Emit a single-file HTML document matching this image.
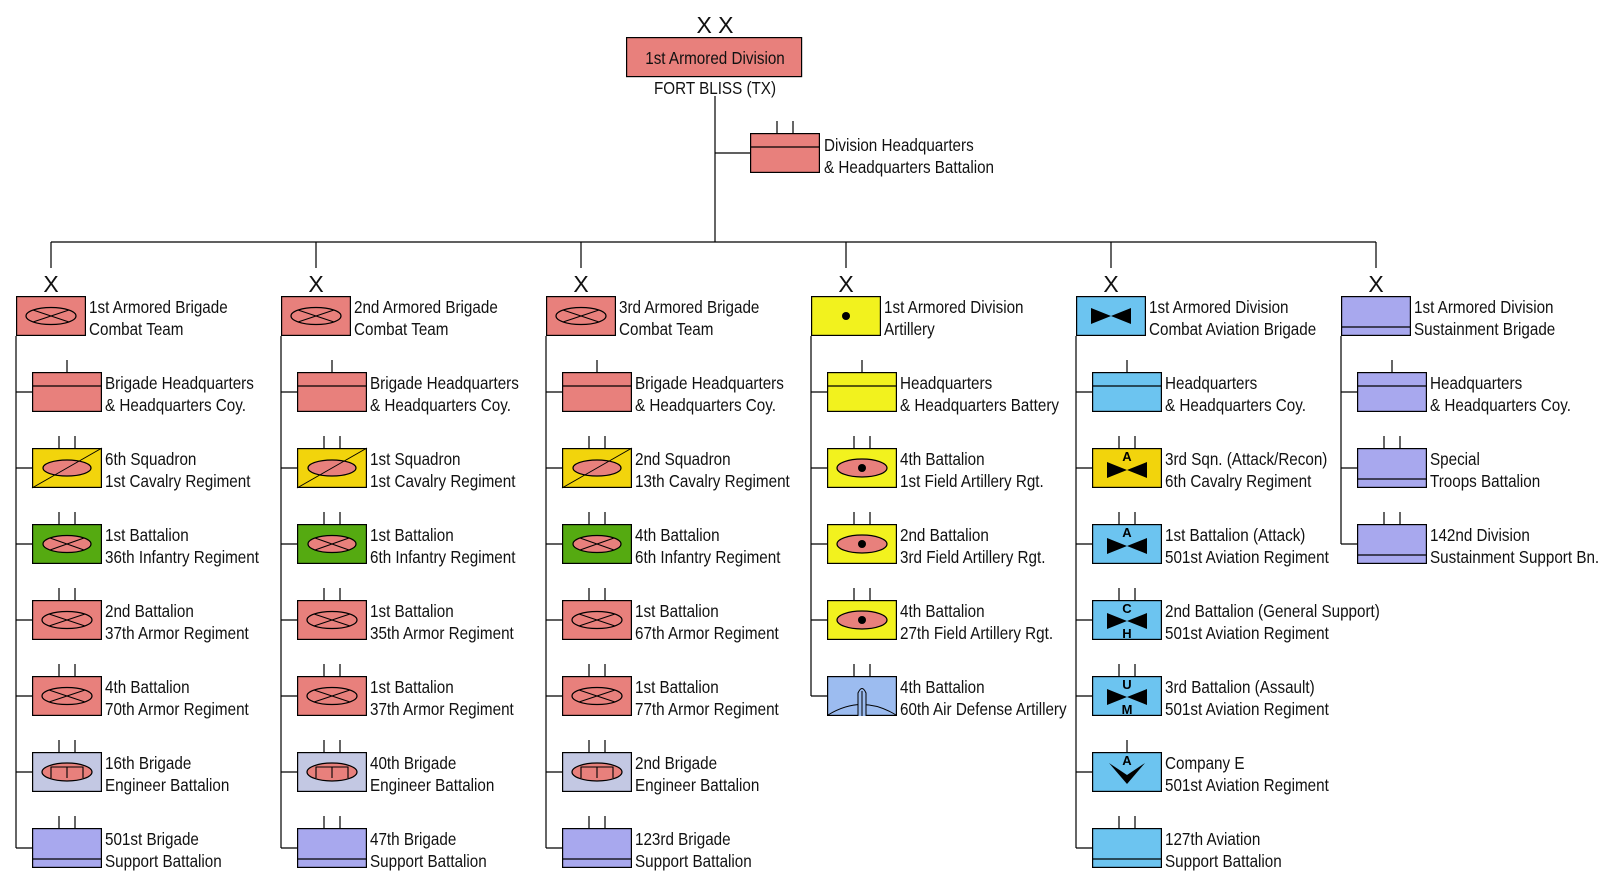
<!DOCTYPE html>
<html><head><meta charset="utf-8"><style>
html,body{margin:0;padding:0;background:#fff}
svg{display:block}
text{font-family:"Liberation Sans",Arial,sans-serif;font-size:17.5px;fill:#111}
.x{font-size:23px}
.l{font-size:13px;font-weight:bold;fill:#000}
</style></head><body>
<svg width="1614" height="888" viewBox="0 0 1614 888" xmlns="http://www.w3.org/2000/svg">
<defs>
<g id="t2"><path d="M27,-12V0M43,-12V0" stroke="#000" stroke-width="1.2"/></g>
<g id="t1"><path d="M35,-12V0" stroke="#000" stroke-width="1.2"/></g>
<g id="armor"><rect x=".6" y=".6" width="68.8" height="38.8" fill="#e8807c" stroke="#000" stroke-width="1.2"/><ellipse cx="35" cy="20" rx="25" ry="8.5" fill="none" stroke="#000" stroke-width="1.2"/><path d="M17,14L53,26M17,26L53,14" stroke="#000" stroke-width="1"/></g>
<g id="hqp"><rect x=".6" y=".6" width="68.8" height="38.8" fill="#e8807c" stroke="#000" stroke-width="1.2"/><path d="M0,14H70" stroke="#000" stroke-width="1.2"/></g>
<g id="hqy"><rect x=".6" y=".6" width="68.8" height="38.8" fill="#f2f21e" stroke="#000" stroke-width="1.2"/><path d="M0,14H70" stroke="#000" stroke-width="1.2"/></g>
<g id="hqb"><rect x=".6" y=".6" width="68.8" height="38.8" fill="#6cc4f0" stroke="#000" stroke-width="1.2"/><path d="M0,14H70" stroke="#000" stroke-width="1.2"/></g>
<g id="hqv"><rect x=".6" y=".6" width="68.8" height="38.8" fill="#a8a8ee" stroke="#000" stroke-width="1.2"/><path d="M0,14H70" stroke="#000" stroke-width="1.2"/></g>
<g id="cav"><rect x=".6" y=".6" width="68.8" height="38.8" fill="#f2d40c" stroke="#000" stroke-width="1.2"/><ellipse cx="35" cy="20" rx="24" ry="8" fill="#e8807c" stroke="#000" stroke-width="1.2"/><path d="M0,40L70,0" stroke="#000" stroke-width="1"/></g>
<g id="inf"><rect x=".6" y=".6" width="68.8" height="38.8" fill="#55aa11" stroke="#000" stroke-width="1.2"/><ellipse cx="35" cy="20" rx="24" ry="8.5" fill="#e8807c" stroke="#000" stroke-width="1.2"/><path d="M18,14L52,26M18,26L52,14" stroke="#000" stroke-width="1"/></g>
<g id="eng"><rect x=".6" y=".6" width="68.8" height="38.8" fill="#c3c8e3" stroke="#000" stroke-width="1.2"/><ellipse cx="35" cy="20" rx="25" ry="9" fill="#e8807c" stroke="#000" stroke-width="1.2"/><path d="M19,26V15H51V26M35,15V26" fill="none" stroke="#000" stroke-width="1.1"/></g>
<g id="sustv"><rect x=".6" y=".6" width="68.8" height="38.8" fill="#a8a8ee" stroke="#000" stroke-width="1.2"/><path d="M0,31H70" stroke="#000" stroke-width="1.2"/></g>
<g id="sustb"><rect x=".6" y=".6" width="68.8" height="38.8" fill="#6cc4f0" stroke="#000" stroke-width="1.2"/><path d="M0,31H70" stroke="#000" stroke-width="1.2"/></g>
<g id="arty"><rect x=".6" y=".6" width="68.8" height="38.8" fill="#f2f21e" stroke="#000" stroke-width="1.2"/><ellipse cx="35" cy="20" rx="25" ry="9" fill="#e8807c" stroke="#000" stroke-width="1.2"/><circle cx="35" cy="20" r="4" fill="#000"/></g>
<g id="divarty"><rect x=".6" y=".6" width="68.8" height="38.8" fill="#f2f21e" stroke="#000" stroke-width="1.2"/><circle cx="35" cy="20" r="4" fill="#000"/></g>
<g id="ada"><rect x=".6" y=".6" width="68.8" height="38.8" fill="#9cbcf0" stroke="#000" stroke-width="1.2"/><path d="M1,39Q35,18 69,39" fill="none" stroke="#000" stroke-width="1"/><path d="M31,40V17Q35,8 39,17V40" fill="#9cbcf0" stroke="#000" stroke-width="1"/><path d="M35,15V40" stroke="#000" stroke-width="1"/></g>
<g id="bow"><path d="M15,12L35,20L15,28ZM55,12L35,20L55,28Z" fill="#000"/></g>
<g id="avb"><rect x=".6" y=".6" width="68.8" height="38.8" fill="#6cc4f0" stroke="#000" stroke-width="1.2"/></g>
<g id="avy"><rect x=".6" y=".6" width="68.8" height="38.8" fill="#f2d40c" stroke="#000" stroke-width="1.2"/></g>
</defs>

<text class="x" x="715" y="33" text-anchor="middle">X X</text>
<rect x="626.6" y="37.6" width="175" height="39" fill="#e8807c" stroke="#000" stroke-width="1.2"/>
<g transform="translate(715,64) scale(.87,1)"><text text-anchor="middle">1st Armored Division</text></g>
<g transform="translate(715,94) scale(.87,1)"><text text-anchor="middle">FORT BLISS (TX)</text></g>
<path d="M715,96V242M715,153H750M51,242H1376" stroke="#000" stroke-width="1.2" fill="none"/>
<use href="#hqp" x="750" y="133"/><path d="M777,121V133M793,121V133" stroke="#000" stroke-width="1.2"/>
<g transform="translate(824,151) scale(.87,1)"><text>Division Headquarters</text><text y="22">&amp; Headquarters Battalion</text></g>

<path d="M51,242V268M316,242V268M581,242V268M846,242V268M1111,242V268M1376,242V268
M16,336V848M281,336V848M546,336V848M811,336V696M1076,336V848M1341,336V544
M16,392H32M16,468H32M16,544H32M16,620H32M16,696H32M16,772H32M16,848H32
M281,392H297M281,468H297M281,544H297M281,620H297M281,696H297M281,772H297M281,848H297
M546,392H562M546,468H562M546,544H562M546,620H562M546,696H562M546,772H562M546,848H562
M811,392H827M811,468H827M811,544H827M811,620H827M811,696H827
M1076,392H1092M1076,468H1092M1076,544H1092M1076,620H1092M1076,696H1092M1076,772H1092M1076,848H1092
M1341,392H1357M1341,468H1357M1341,544H1357" stroke="#000" stroke-width="1.2" fill="none"/>
<text class="x" x="51" y="292" text-anchor="middle">X</text>
<text class="x" x="316" y="292" text-anchor="middle">X</text>
<text class="x" x="581" y="292" text-anchor="middle">X</text>
<text class="x" x="846" y="292" text-anchor="middle">X</text>
<text class="x" x="1111" y="292" text-anchor="middle">X</text>
<text class="x" x="1376" y="292" text-anchor="middle">X</text>

<use href="#armor" x="16" y="296"/>
<g transform="translate(89,313) scale(.87,1)"><text>1st Armored Brigade</text><text y="22">Combat Team</text></g>
<use href="#hqp" x="32" y="372"/><use href="#t1" x="32" y="372"/>
<g transform="translate(105,389) scale(.87,1)"><text>Brigade Headquarters</text><text y="22">&amp; Headquarters Coy.</text></g>
<use href="#cav" x="32" y="448"/><use href="#t2" x="32" y="448"/>
<g transform="translate(105,465) scale(.87,1)"><text>6th Squadron</text><text y="22">1st Cavalry Regiment</text></g>
<use href="#inf" x="32" y="524"/><use href="#t2" x="32" y="524"/>
<g transform="translate(105,541) scale(.87,1)"><text>1st Battalion</text><text y="22">36th Infantry Regiment</text></g>
<use href="#armor" x="32" y="600"/><use href="#t2" x="32" y="600"/>
<g transform="translate(105,617) scale(.87,1)"><text>2nd Battalion</text><text y="22">37th Armor Regiment</text></g>
<use href="#armor" x="32" y="676"/><use href="#t2" x="32" y="676"/>
<g transform="translate(105,693) scale(.87,1)"><text>4th Battalion</text><text y="22">70th Armor Regiment</text></g>
<use href="#eng" x="32" y="752"/><use href="#t2" x="32" y="752"/>
<g transform="translate(105,769) scale(.87,1)"><text>16th Brigade</text><text y="22">Engineer Battalion</text></g>
<use href="#sustv" x="32" y="828"/><use href="#t2" x="32" y="828"/>
<g transform="translate(105,845) scale(.87,1)"><text>501st Brigade</text><text y="22">Support Battalion</text></g>

<use href="#armor" x="281" y="296"/>
<g transform="translate(354,313) scale(.87,1)"><text>2nd Armored Brigade</text><text y="22">Combat Team</text></g>
<use href="#hqp" x="297" y="372"/><use href="#t1" x="297" y="372"/>
<g transform="translate(370,389) scale(.87,1)"><text>Brigade Headquarters</text><text y="22">&amp; Headquarters Coy.</text></g>
<use href="#cav" x="297" y="448"/><use href="#t2" x="297" y="448"/>
<g transform="translate(370,465) scale(.87,1)"><text>1st Squadron</text><text y="22">1st Cavalry Regiment</text></g>
<use href="#inf" x="297" y="524"/><use href="#t2" x="297" y="524"/>
<g transform="translate(370,541) scale(.87,1)"><text>1st Battalion</text><text y="22">6th Infantry Regiment</text></g>
<use href="#armor" x="297" y="600"/><use href="#t2" x="297" y="600"/>
<g transform="translate(370,617) scale(.87,1)"><text>1st Battalion</text><text y="22">35th Armor Regiment</text></g>
<use href="#armor" x="297" y="676"/><use href="#t2" x="297" y="676"/>
<g transform="translate(370,693) scale(.87,1)"><text>1st Battalion</text><text y="22">37th Armor Regiment</text></g>
<use href="#eng" x="297" y="752"/><use href="#t2" x="297" y="752"/>
<g transform="translate(370,769) scale(.87,1)"><text>40th Brigade</text><text y="22">Engineer Battalion</text></g>
<use href="#sustv" x="297" y="828"/><use href="#t2" x="297" y="828"/>
<g transform="translate(370,845) scale(.87,1)"><text>47th Brigade</text><text y="22">Support Battalion</text></g>

<use href="#armor" x="546" y="296"/>
<g transform="translate(619,313) scale(.87,1)"><text>3rd Armored Brigade</text><text y="22">Combat Team</text></g>
<use href="#hqp" x="562" y="372"/><use href="#t1" x="562" y="372"/>
<g transform="translate(635,389) scale(.87,1)"><text>Brigade Headquarters</text><text y="22">&amp; Headquarters Coy.</text></g>
<use href="#cav" x="562" y="448"/><use href="#t2" x="562" y="448"/>
<g transform="translate(635,465) scale(.87,1)"><text>2nd Squadron</text><text y="22">13th Cavalry Regiment</text></g>
<use href="#inf" x="562" y="524"/><use href="#t2" x="562" y="524"/>
<g transform="translate(635,541) scale(.87,1)"><text>4th Battalion</text><text y="22">6th Infantry Regiment</text></g>
<use href="#armor" x="562" y="600"/><use href="#t2" x="562" y="600"/>
<g transform="translate(635,617) scale(.87,1)"><text>1st Battalion</text><text y="22">67th Armor Regiment</text></g>
<use href="#armor" x="562" y="676"/><use href="#t2" x="562" y="676"/>
<g transform="translate(635,693) scale(.87,1)"><text>1st Battalion</text><text y="22">77th Armor Regiment</text></g>
<use href="#eng" x="562" y="752"/><use href="#t2" x="562" y="752"/>
<g transform="translate(635,769) scale(.87,1)"><text>2nd Brigade</text><text y="22">Engineer Battalion</text></g>
<use href="#sustv" x="562" y="828"/><use href="#t2" x="562" y="828"/>
<g transform="translate(635,845) scale(.87,1)"><text>123rd Brigade</text><text y="22">Support Battalion</text></g>

<use href="#divarty" x="811" y="296"/>
<g transform="translate(884,313) scale(.87,1)"><text>1st Armored Division</text><text y="22">Artillery</text></g>
<use href="#hqy" x="827" y="372"/><use href="#t1" x="827" y="372"/>
<g transform="translate(900,389) scale(.87,1)"><text>Headquarters</text><text y="22">&amp; Headquarters Battery</text></g>
<use href="#arty" x="827" y="448"/><use href="#t2" x="827" y="448"/>
<g transform="translate(900,465) scale(.87,1)"><text>4th Battalion</text><text y="22">1st Field Artillery Rgt.</text></g>
<use href="#arty" x="827" y="524"/><use href="#t2" x="827" y="524"/>
<g transform="translate(900,541) scale(.87,1)"><text>2nd Battalion</text><text y="22">3rd Field Artillery Rgt.</text></g>
<use href="#arty" x="827" y="600"/><use href="#t2" x="827" y="600"/>
<g transform="translate(900,617) scale(.87,1)"><text>4th Battalion</text><text y="22">27th Field Artillery Rgt.</text></g>
<use href="#ada" x="827" y="676"/><use href="#t2" x="827" y="676"/>
<g transform="translate(900,693) scale(.87,1)"><text>4th Battalion</text><text y="22">60th Air Defense Artillery</text></g>

<use href="#avb" x="1076" y="296"/><use href="#bow" x="1076" y="296"/>
<g transform="translate(1149,313) scale(.87,1)"><text>1st Armored Division</text><text y="22">Combat Aviation Brigade</text></g>
<use href="#hqb" x="1092" y="372"/><use href="#t1" x="1092" y="372"/>
<g transform="translate(1165,389) scale(.87,1)"><text>Headquarters</text><text y="22">&amp; Headquarters Coy.</text></g>
<use href="#avy" x="1092" y="448"/><use href="#bow" x="1092" y="450"/><use href="#t2" x="1092" y="448"/>
<text class="l" x="1127" y="461" text-anchor="middle">A</text>
<g transform="translate(1165,465) scale(.87,1)"><text>3rd Sqn. (Attack/Recon)</text><text y="22">6th Cavalry Regiment</text></g>
<use href="#avb" x="1092" y="524"/><use href="#bow" x="1092" y="526"/><use href="#t2" x="1092" y="524"/>
<text class="l" x="1127" y="537" text-anchor="middle">A</text>
<g transform="translate(1165,541) scale(.87,1)"><text>1st Battalion (Attack)</text><text y="22">501st Aviation Regiment</text></g>
<use href="#avb" x="1092" y="600"/><use href="#bow" x="1092" y="601"/><use href="#t2" x="1092" y="600"/>
<text class="l" x="1127" y="613" text-anchor="middle">C</text><text class="l" x="1127" y="638" text-anchor="middle">H</text>
<g transform="translate(1165,617) scale(.87,1)"><text>2nd Battalion (General Support)</text><text y="22">501st Aviation Regiment</text></g>
<use href="#avb" x="1092" y="676"/><use href="#bow" x="1092" y="677"/><use href="#t2" x="1092" y="676"/>
<text class="l" x="1127" y="689" text-anchor="middle">U</text><text class="l" x="1127" y="714" text-anchor="middle">M</text>
<g transform="translate(1165,693) scale(.87,1)"><text>3rd Battalion (Assault)</text><text y="22">501st Aviation Regiment</text></g>
<use href="#avb" x="1092" y="752"/><use href="#t1" x="1092" y="752"/>
<path d="M1109,763L1127,775L1145,763L1127,784Z" fill="#000"/>
<text class="l" x="1127" y="765" text-anchor="middle">A</text>
<g transform="translate(1165,769) scale(.87,1)"><text>Company E</text><text y="22">501st Aviation Regiment</text></g>
<use href="#sustb" x="1092" y="828"/><use href="#t2" x="1092" y="828"/>
<g transform="translate(1165,845) scale(.87,1)"><text>127th Aviation</text><text y="22">Support Battalion</text></g>

<use href="#sustv" x="1341" y="296"/>
<g transform="translate(1414,313) scale(.87,1)"><text>1st Armored Division</text><text y="22">Sustainment Brigade</text></g>
<use href="#hqv" x="1357" y="372"/><use href="#t1" x="1357" y="372"/>
<g transform="translate(1430,389) scale(.87,1)"><text>Headquarters</text><text y="22">&amp; Headquarters Coy.</text></g>
<use href="#sustv" x="1357" y="448"/><use href="#t2" x="1357" y="448"/>
<g transform="translate(1430,465) scale(.87,1)"><text>Special</text><text y="22">Troops Battalion</text></g>
<use href="#sustv" x="1357" y="524"/><use href="#t2" x="1357" y="524"/>
<g transform="translate(1430,541) scale(.87,1)"><text>142nd Division</text><text y="22">Sustainment Support Bn.</text></g>
</svg>
</body></html>
